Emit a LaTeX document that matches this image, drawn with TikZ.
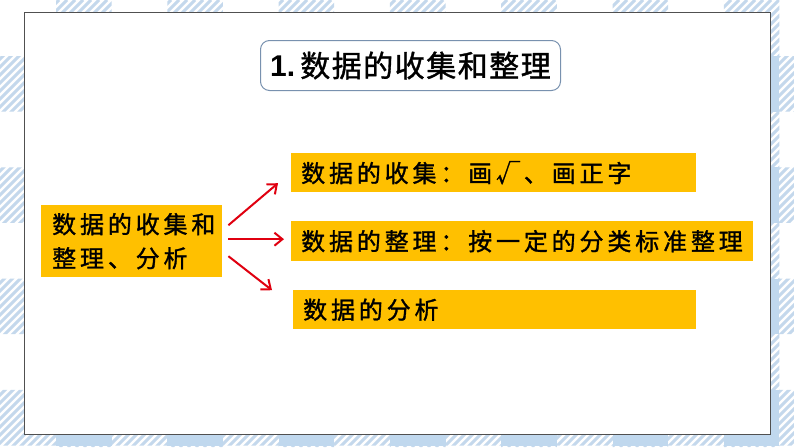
\documentclass[tikz,border=0pt]{standalone}
\usepackage{fontspec}
\setmainfont{Liberation Sans}
\newfontfamily\cjkT{Noto Sans CJK SC}[LetterSpace=5, FakeBold=1.2]
\newfontfamily\cjkB{Noto Sans CJK SC}[LetterSpace=16, FakeBold=1.2]
\usetikzlibrary{arrows.meta,calc}
\definecolor{bgblue}{RGB}{192,216,238}
\definecolor{hatchblue}{RGB}{196,216,236}
\definecolor{boxorange}{RGB}{255,192,0}
\definecolor{arrred}{RGB}{224,0,16}
\definecolor{panelgray}{RGB}{80,80,80}
\definecolor{titleborder}{RGB}{120,145,175}
\tikzset{
  obox/.style={fill=boxorange, anchor=north west, inner xsep=10pt, inner ysep=0pt, align=left,
    font=\cjkB\fontsize{24}{34}\selectfont},
  arr/.style={draw=arrred, line width=2pt, -{Straight Barb[length=8pt,width=13pt]}},
}
\begin{document}
\begin{tikzpicture}[x=1pt,y=-1pt]
\useasboundingbox (0,0) rectangle (794,447);
\fill[white] (0,0) rectangle (794,447);
\begin{scope}
\clip \foreach \k in {0,...,7} { (56+111.3*\k,0) rectangle (111.6+111.3*\k,447) }
      \foreach \k in {0,...,3} { (0,56+111.3*\k) rectangle (794,111.6+111.3*\k) };
\foreach \c in {-460,-452,...,800} \draw[hatchblue,line width=3pt] (\c,447) -- ++(447,-447);
\end{scope}
\foreach \i in {0,...,7} \foreach \j in {0,...,3}
  \fill[bgblue] (56+111.3*\i,56+111.3*\j) rectangle ++(55.6,55.6);

\node[draw=panelgray, fill=white, line width=1.2pt, minimum width=746pt, minimum height=422pt,
  anchor=north west, inner sep=0pt] (panel) at (24,12) {};

\node[draw=titleborder, fill=white, rounded corners=9pt, line width=1pt, minimum width=300pt,
  minimum height=50pt, anchor=north west, inner sep=0pt] (title) at (260,40)
  {\fontsize{30}{30}\selectfont\bfseries 1.\hspace{5pt}\cjkT\mdseries 数据的收集和整理};

\node[obox, minimum height=72pt, inner xsep=11pt, text width=159pt] (L) at (41,205)
  {数据的收集和\\整理、分析};

\node[obox, minimum height=39pt, text width=385pt] (B1) at (291,153) {数据的收集：画√、画正字};
\node[obox, minimum height=40pt, text width=442pt] (B2) at (291,221) {数据的整理：按一定的分类标准整理};
\node[obox, minimum height=39pt, text width=383pt] (B3) at (293,290) {数据的分析};

\draw[arr] ($(L.east)+(6,-16)$) -- ($(B1.west)+(-13,10.5)$);
\draw[arr] ($(L.east)+(6,-2)$) -- ($(B2.west)+(-7,-2)$);
\draw[arr] ($(L.east)+(6,15)$) -- ($(B3.west)+(-21,-19.5)$);
\end{tikzpicture}
\end{document}
